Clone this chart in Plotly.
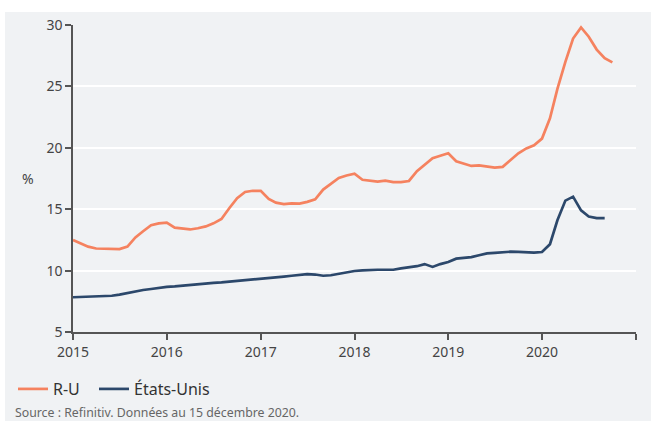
import pandas as pd
import plotly.graph_objects as go

# Monthly observations, January 2015 onward
months_ru = pd.date_range("2015-01-01", periods=70, freq="MS")
months_us = pd.date_range("2015-01-01", periods=69, freq="MS")

ru_values = [
    12.5, 12.2, 11.95, 11.8, 11.8, 11.78, 11.75, 11.95, 12.7, 13.2, 13.7, 13.85,
    13.9, 13.5, 13.4, 13.35, 13.45, 13.6, 13.85, 14.2, 15.1, 15.9, 16.4, 16.5,
    16.5, 15.83, 15.53, 15.42, 15.48, 15.45, 15.6, 15.8, 16.6, 17.1, 17.55, 17.75,
    17.9, 17.4, 17.3, 17.25, 17.32, 17.2, 17.2, 17.3, 18.1, 18.6, 19.15, 19.35,
    19.55, 18.9, 18.7, 18.52, 18.57, 18.45, 18.38, 18.45, 19.0, 19.55, 19.95, 20.2,
    20.75, 22.4, 24.8, 27.0, 28.9, 29.8, 29.05, 28.0, 27.3, 26.96,
]

us_values = [
    7.83, 7.86, 7.88, 7.9, 7.92, 7.95, 8.05, 8.18, 8.3, 8.42, 8.5, 8.6,
    8.68, 8.72, 8.78, 8.85, 8.9, 8.94, 9.0, 9.04, 9.1, 9.15, 9.2, 9.24,
    9.28, 9.35, 9.44, 9.51, 9.58, 9.65, 9.71, 9.68, 9.58, 9.62, 9.75, 9.88,
    9.97, 10.02, 10.07, 10.07, 10.07, 10.07, 10.18, 10.28, 10.36, 10.53, 10.3, 10.53,
    10.7, 10.97, 11.03, 11.1, 11.25, 11.4, 11.45, 11.5, 11.54, 11.52, 11.49, 11.46,
    11.51, 12.15, 14.1, 15.7, 16.02, 14.9, 14.4, 14.27, 14.27,
]

series_names = ["R-U", "États-Unis"]
series_colors = ["#f5825f", "#2c486b"]

year_ticks = pd.date_range("2015-01-01", "2021-01-01", freq="YS")
y_ticks = [5, 10, 15, 20, 25, 30]

BG = "#f0f2f4"
TEXT = "#444444"
FONT = "Noto Sans"

fig = go.Figure()
fig.add_trace(go.Scatter(
    x=months_ru, y=ru_values, mode="lines", name=series_names[0],
    line=dict(color=series_colors[0], width=2.7), legend="legend",
))
fig.add_trace(go.Scatter(
    x=months_us, y=us_values, mode="lines", name=series_names[1],
    line=dict(color=series_colors[1], width=2.7), legend="legend2",
))

W, H = 651, 421
L, R, T, B = 73, 15, 25, 89
pw, ph = W - L - R, H - T - B


def px_x(p):
    return (p - L) / pw


def px_y(p):
    return (H - B - p) / ph


def legend_at(x_px):
    return dict(
        orientation="h", x=px_x(x_px), xanchor="left",
        y=px_y(389), yanchor="middle",
        font=dict(family=FONT, size=16, color="#333333"),
        bgcolor="rgba(0,0,0,0)", itemwidth=30,
    )


fig.update_layout(
    width=W, height=H,
    margin=dict(l=L, r=R, t=T, b=B),
    paper_bgcolor=BG, plot_bgcolor=BG,
    font=dict(family=FONT, color=TEXT, size=14),
    showlegend=True,
    legend=legend_at(13),
    legend2=legend_at(94),
    xaxis=dict(
        type="date",
        range=[year_ticks[0], year_ticks[-1]],
        tickvals=list(year_ticks), tickformat="%Y",
        showgrid=False, zeroline=False,
        showline=True, linecolor="#555555", linewidth=1.5,
        ticks="outside", ticklen=6, tickwidth=1.5, tickcolor="#555555",
        tickfont=dict(family=FONT, size=14, color=TEXT),
    ),
    yaxis=dict(
        range=[5, 30], tickvals=y_ticks,
        showgrid=True, gridcolor="#ffffff", gridwidth=1.5,
        zeroline=False,
        showline=True, linecolor="#555555", linewidth=1.5,
        ticks="outside", ticklen=6, tickwidth=1.5, tickcolor="#555555",
        tickfont=dict(family=FONT, size=14, color=TEXT),
    ),
    shapes=[
        # white frame strips along the top and left edges
        dict(type="rect", xref="paper", yref="paper",
             x0=px_x(0), x1=px_x(W), y0=px_y(12), y1=px_y(0),
             fillcolor="#ffffff", line=dict(width=0), layer="below"),
        dict(type="rect", xref="paper", yref="paper",
             x0=px_x(0), x1=px_x(5), y0=px_y(H), y1=px_y(0),
             fillcolor="#ffffff", line=dict(width=0), layer="below"),
    ],
    annotations=[
        dict(text="%", xref="paper", yref="paper", x=px_x(28), y=px_y(178),
             xanchor="center", yanchor="middle", showarrow=False,
             font=dict(family=FONT, size=14, color=TEXT)),
        dict(text="Source : Refinitiv. Données au 15 décembre 2020.",
             xref="paper", yref="paper", x=px_x(13), y=px_y(402),
             xanchor="left", yanchor="top", showarrow=False,
             font=dict(family=FONT, size=12.3, color="#666666")),
    ],
)

fig.write_html("out.html")
